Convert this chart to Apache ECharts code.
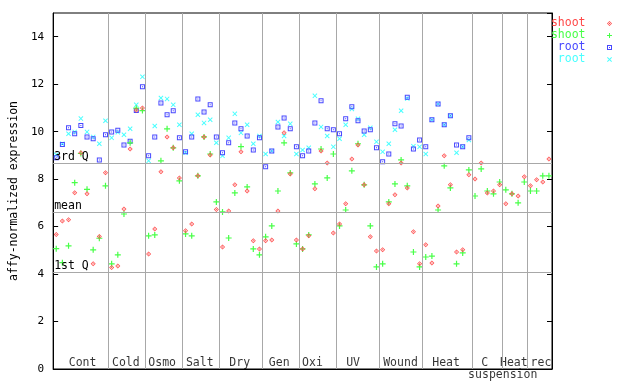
<!DOCTYPE html>
<html><head><meta charset="utf-8">
<script src="https://cdn.jsdelivr.net/npm/echarts@6/dist/echarts.min.js"></script>
<style>html,body{margin:0;padding:0;background:#fff}#c{width:640px;height:384px}</style>
</head><body><div id="c"></div>
<script>
// groups of samples along the x axis
const groupNames = ['Cont','Cold','Osmo','Salt','Dry','Gen','Oxi','UV','Wound','Heat','C','Heat','rec'];
const groupSizes = [9,6,6,6,7,6,6,7,7,8,5,4,4];
// label x positions (axis units)
const groupLabelX = [4.78,11.8,17.7,23.8,30.3,36.7,42.1,48.7,56.4,63.8,70.06,74.8,79.2];
const extraLabel = {name:'suspension', x:73};

// reference lines
const refNames = ['3rd Q','mean','1st Q'];
const refValues = [8.69, 6.62, 4.09];

// y ticks
const yMin = 0, yMax = 15, yStep = 2;

// series values (one per sample)
const shootA = [5.67,6.24,6.29,7.43,9.11,7.38,4.43,5.58,8.27,
  4.28,4.34,6.74,9.27,10.9,11.0,
  4.85,5.90,8.31,9.78,9.32,8.05,
  5.83,6.11,8.14,9.78,9.02,6.72,
  5.14,6.66,7.76,9.15,7.50,5.40,5.06,
  5.40,5.44,6.66,9.95,8.22,5.44,
  5.06,5.61,7.59,9.19,8.68,5.73,
  6.11,6.96,8.85,9.44,7.76,5.57,4.97,
  5.02,6.96,7.34,8.68,7.63,5.78,4.43,
  5.23,4.47,6.87,8.98,7.76,4.93,5.02,8.18,
  8.01,8.68,7.42,7.50,7.76,
  6.96,7.38,7.29,8.10,
  7.72,7.97,7.88,8.85];
const shootB = [5.07,4.48,5.19,7.85,9.08,7.57,5.02,5.51,7.72,
  4.43,4.81,6.53,9.53,10.99,10.89,
  5.61,5.65,8.77,10.12,9.32,7.93,
  5.69,5.61,8.14,9.78,9.06,7.04,
  6.62,5.52,7.42,9.37,7.67,5.06,4.81,
  5.57,6.03,7.50,9.53,8.26,5.27,
  5.06,5.65,7.80,9.27,8.05,9.06,
  6.03,6.70,8.35,9.49,7.76,6.03,4.30,
  4.43,7.04,7.80,8.81,7.72,4.93,4.30,
  4.72,4.76,6.70,8.56,7.63,4.43,4.89,8.39,
  7.29,8.43,7.50,7.38,7.88,
  7.55,7.38,7.00,7.88,
  7.50,7.50,8.14,8.14];
const rootA = [8.90,9.46,10.16,9.91,10.26,9.78,9.70,8.81,9.87,
  9.99,10.06,9.44,9.60,10.89,11.89,
  8.98,9.78,11.21,10.71,10.88,9.74,
  9.15,9.78,11.38,10.83,11.13,9.78,
  9.11,9.53,10.37,10.12,9.82,9.23,9.74,
  8.52,9.19,10.20,10.58,10.12,9.36,
  8.98,9.19,10.37,11.30,10.12,10.08,
  9.91,10.54,11.05,10.46,10.03,10.08,9.32,
  8.73,9.06,10.33,10.24,11.45,9.27,9.65,
  9.36,10.50,11.17,10.29,10.67,9.44,9.36,9.74];
const rootB = [9.03,9.49,9.91,9.99,10.55,9.99,9.78,9.49,10.46,
  9.74,9.98,9.87,10.12,11.13,12.31,
  8.77,10.24,11.42,11.38,11.13,10.29,
  9.11,9.91,10.71,10.37,10.50,9.53,
  8.98,9.74,10.75,9.95,10.29,9.49,9.82,
  9.06,9.19,10.41,9.82,10.33,9.06,
  9.23,9.32,11.51,10.20,9.82,9.36,
  9.70,10.29,10.96,10.54,9.87,10.16,9.57,
  9.15,9.49,10.08,10.88,11.40,9.39,9.36,
  9.06,10.50,11.17,10.29,10.67,9.11,9.36,9.65];

const nSamples = groupSizes.reduce((a,b)=>a+b,0);
const bounds = [];
{ let acc = 0; for (let i=0;i<groupSizes.length-1;i++){ acc += groupSizes[i]; bounds.push(acc); } }

const FONT = 'DejaVu Sans Mono';
const C_RED='#ff4848', C_GREEN='#48ff48', C_BLUE='#4848ff', C_CYAN='#48ffff';
const SYM_DIAMOND = 'path://M2.5,0L5,2.5L2.5,5L0,2.5Z M2.5,1L1,2.5L2.5,4L4,2.5Z M2,2H3V3H2Z';
const SYM_PLUS = 'path://M0,2H5V3H0Z M2,0H3V5H2Z';
const SYM_SQUARE = 'path://M0,0H5V5H0Z M1,1V4H4V1Z M2,2H3V3H2Z';
const SYM_X = 'path://M0,0.7L0.7,0L5,4.3L4.3,5Z M4.3,0L5,0.7L0.7,5L0,4.3Z';

function pts(arr){ return arr.map((v,i)=>[i+0.5, v]); }
function sc(name, arr, sym, size, color){
  return {name, type:'scatter', data:pts(arr), symbol:sym, symbolSize:size,
    itemStyle:{color, opacity:1}, silent:true, animation:false, z:3};
}

const labelData = groupNames.map((n,i)=>({name:n, value:[groupLabelX[i], 0]}));

const chart = echarts.init(document.getElementById('c'), null, {renderer:'canvas'});
chart.setOption({
  backgroundColor:'#fff',
  animation:false,
  grid:{left:44, right:88, top:13, bottom:15, show:true, borderColor:'#000', borderWidth:1, backgroundColor:'transparent'},
  xAxis:{type:'value', min:0, max:nSamples, axisLine:{show:true, lineStyle:{color:'#000'}},
    axisTick:{show:false}, axisLabel:{show:false}, splitLine:{show:false}},
  yAxis:[
    {type:'value', min:yMin, max:yMax, interval:yStep, position:'left',
     axisLine:{show:true, lineStyle:{color:'#000'}},
     axisTick:{show:true, inside:true, length:5, lineStyle:{color:'#000'}},
     axisLabel:{color:'#000', fontFamily:FONT, fontSize:11, margin:9, showMaxLabel:false},
     splitLine:{show:false},
     name:'affy-normalized expression', nameLocation:'middle', nameRotate:90, nameGap:27,
     nameTextStyle:{color:'#000', fontFamily:FONT, fontSize:11.5}},
    {type:'value', min:yMin, max:yMax, interval:yStep, position:'right',
     axisLine:{show:true, lineStyle:{color:'#000'}},
     axisTick:{show:true, inside:true, length:5, lineStyle:{color:'#000'}},
     axisLabel:{show:false}, splitLine:{show:false}}
  ],
  legend:{orient:'vertical', right:28, top:17.5, padding:0, align:'right', itemGap:0,
    itemWidth:38, itemHeight:5, selectedMode:false,
    formatter:n=>n.replace(/[0-9]$/,''),
    textStyle:{fontFamily:FONT, fontSize:11.5, lineHeight:11},
    data:[
      {name:'shoot1', textStyle:{color:C_RED}},
      {name:'shoot2', textStyle:{color:C_GREEN}},
      {name:'root1', textStyle:{color:C_BLUE}},
      {name:'root2', textStyle:{color:C_CYAN}}
    ]},
  series:[
    {name:'vlines', type:'scatter', data:[], silent:true, z:1,
      markLine:{silent:true, symbol:['none','none'], animation:false,
        lineStyle:{color:'#a8a8a8', width:1, type:'solid'}, label:{show:false},
        data:bounds.map(b=>({xAxis:b}))}},
    {name:'refs', type:'scatter', data:[], silent:true, z:1,
      markLine:{silent:true, symbol:['none','none'], animation:false,
        lineStyle:{color:'#a8a8a8', width:1, type:'solid'},
        label:{show:true, position:'insideStartTop', formatter:'{b}', color:'#000',
          fontFamily:FONT, fontSize:11.5, distance:[1,0]},
        data:refNames.map((n,i)=>({name:n, yAxis:refValues[i]}))}},
    sc('root2', rootB, SYM_X, 5, C_CYAN),
    sc('root1', rootA, SYM_SQUARE, 5, C_BLUE),
    sc('shoot2', shootB, SYM_PLUS, 6, C_GREEN),
    sc('shoot1', shootA, SYM_DIAMOND, 5, C_RED),
    {name:'glabels', type:'scatter', data:labelData, symbolSize:1, itemStyle:{color:'rgba(0,0,0,0)'},
      silent:true, z:4,
      label:{show:true, position:'top', distance:0, formatter:'{b}', color:'#000',
        fontFamily:FONT, fontSize:11.5, lineHeight:11}},
    {name:'glabels2', type:'scatter', data:[{name:extraLabel.name, value:[extraLabel.x,0]}], symbolSize:1,
      itemStyle:{color:'rgba(0,0,0,0)'}, silent:true, z:4,
      label:{show:true, position:'bottom', distance:0, formatter:'{b}', color:'#000',
        fontFamily:FONT, fontSize:11.5, lineHeight:11}}
  ]
});
</script></body></html>
